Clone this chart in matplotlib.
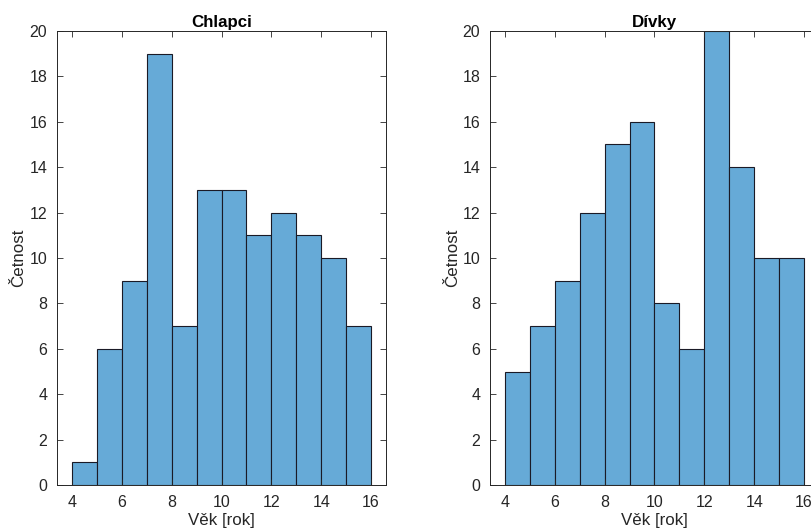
import matplotlib
matplotlib.use("Agg")
import matplotlib.pyplot as plt
import numpy as np

plt.rcParams['font.family'] = ['Liberation Sans', 'DejaVu Sans']

bin_edges = [4, 5, 6, 7, 8, 9, 10, 11, 12, 13, 14, 15, 16]
boys_counts = [1, 6, 9, 19, 7, 13, 13, 11, 12, 11, 10, 7]
girls_counts = [5, 7, 9, 12, 15, 16, 8, 6, 20, 14, 10, 10]
titles = ["Chlapci", "Dívky"]
xlabel = "Věk [rok]"
ylabel = "Četnost"
xticks = [4, 6, 8, 10, 12, 14, 16]
yticks = [0, 2, 4, 6, 8, 10, 12, 14, 16, 18, 20]

W, H = 811, 528
fig = plt.figure(figsize=(W / 100, H / 100), dpi=100)

face = (0.4, 0.668, 0.845)
axcol = (0.15, 0.15, 0.15)

positions = [
    [57 / W, (H - 485) / H, 329 / W, 454 / H],
    [490 / W, (H - 485) / H, 329 / W, 454 / H],
]

for pos, counts, title in zip(positions, [boys_counts, girls_counts], titles):
    ax = fig.add_axes(pos)
    edges = np.array(bin_edges)
    ax.bar(edges[:-1], counts, width=np.diff(edges), align='edge',
           color=face, edgecolor=(0.1, 0.1, 0.15), linewidth=0.8)
    ax.set_xlim(3.4, 16.6)
    ax.set_ylim(0, 20)
    ax.set_xticks(xticks)
    ax.set_yticks(yticks)
    ax.tick_params(direction='in', top=True, right=True, length=4,
                   width=0.6, colors=axcol, labelsize=11.5, pad=7)
    for sp in ax.spines.values():
        sp.set_color(axcol)
        sp.set_linewidth(0.7)
    for lab in ax.get_xticklabels() + ax.get_yticklabels():
        lab.set_color(axcol)
    ax.set_title(title, fontsize=12.2, fontweight='bold', color='black', pad=3)
    ax.set_xlabel(xlabel, fontsize=12.2, color=axcol, labelpad=2)
    ax.set_ylabel(ylabel, fontsize=12.2, color=axcol, labelpad=2)

fig.savefig("out.png", dpi=100)
